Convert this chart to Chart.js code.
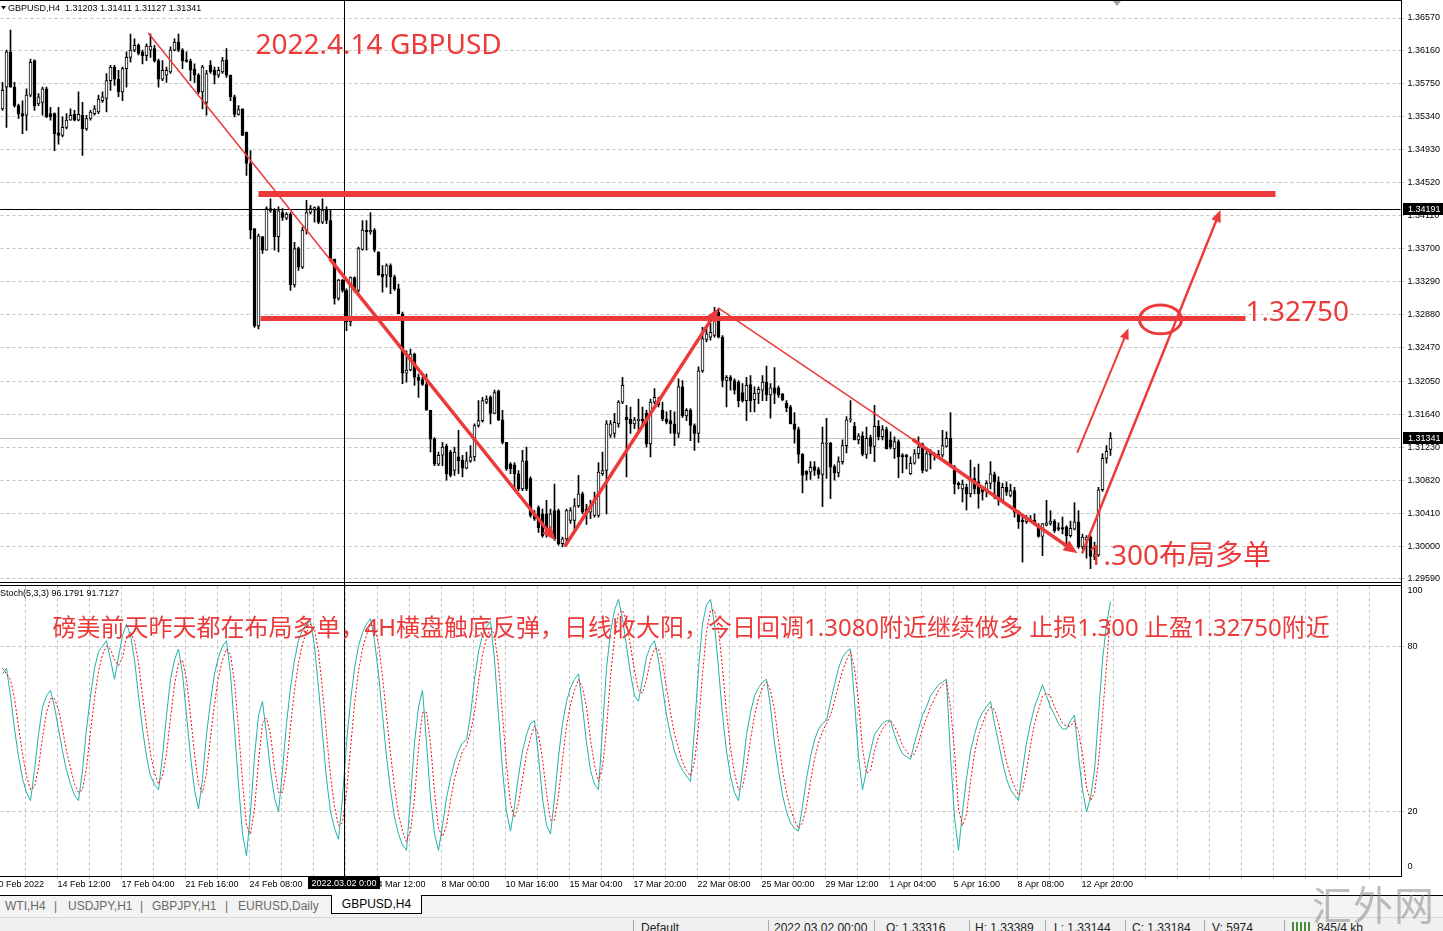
<!DOCTYPE html>
<html lang="zh">
<head>
<meta charset="utf-8">
<title>GBPUSD,H4</title>
<script src="https://cdn.jsdelivr.net/npm/chart.js@4.4.1/dist/chart.umd.min.js"></script>
<style>
  html, body { margin: 0; padding: 0; background: #fff; }
  body { position: relative; width: 1443px; height: 931px; overflow: hidden; font-family: "Liberation Sans", Arial, sans-serif; }
  canvas { position: absolute; left: 0; }
  #price { top: 0; }
  #stoch { top: 583px; }
  #tabs { position: absolute; left: 0; top: 895px; width: 1443px; height: 22px; background: #f3f3f3; border-top: 1px solid #000; box-sizing: border-box; }
  #tabs span { position: absolute; top: 3px; font-size: 12px; color: #6a6a6a; white-space: nowrap; }
  #tabs .active { position: absolute; left: 331px; top: -1px; width: 91px; height: 19px; background: #fff; border: 1px solid #000; border-top: none; box-sizing: border-box; font-size: 12px; color: #000; text-align: center; line-height: 19px; }
  #status { position: absolute; left: 0; top: 917px; width: 1443px; height: 14px; background: #f0f0f0; border-top: 1px solid #d8d8d8; }
  #status span { position: absolute; top: 3px; font-size: 12px; color: #222; white-space: nowrap; }
  #status i { position: absolute; top: 2px; width: 1px; height: 14px; background: #a8a8a8; }
  #status b { position: absolute; top: 4px; width: 2px; height: 10px; background: #4a8a3a; }
  #wm { position: absolute; left: 1312px; top: 874px; font: 40px "Noto Sans CJK SC", sans-serif; color: rgba(130,130,130,0.5); letter-spacing: 1px; }
</style>
</head>
<body>
<canvas id="price" width="1443" height="583"></canvas>
<canvas id="stoch" width="1443" height="312"></canvas>

<div id="tabs">
  <span style="left:5px">WTI,H4</span>
  <span style="left:54px">|</span>
  <span style="left:68px">USDJPY,H1</span>
  <span style="left:140px">|</span>
  <span style="left:152px">GBPJPY,H1</span>
  <span style="left:225px">|</span>
  <span style="left:238px">EURUSD,Daily</span>
  <div class="active">GBPUSD,H4</div>
</div>
<div id="status">
  <i style="left:633px"></i><span style="left:641px">Default</span>
  <i style="left:768px"></i><span style="left:774px">2022.03.02 00:00</span>
  <i style="left:874px"></i><span style="left:886px">O: 1.33316</span>
  <i style="left:969px"></i><span style="left:975px">H: 1.33389</span>
  <i style="left:1045px"></i><span style="left:1054px">L: 1.33144</span>
  <i style="left:1125px"></i><span style="left:1132px">C: 1.33184</span>
  <i style="left:1204px"></i><span style="left:1212px">V: 5974</span>
  <i style="left:1284px"></i><b style="left:1292px"></b><b style="left:1296px"></b><b style="left:1300px"></b><b style="left:1304px"></b><b style="left:1308px"></b>
  <span style="left:1317px">845/4 kb</span>
</div>
<div id="wm">汇外网</div>

<script>
// ---- data ----
const priceTicks = [1.3657, 1.3616, 1.3575, 1.3534, 1.3493, 1.3452, 1.3411, 1.3370, 1.3329,
  1.3288, 1.3247, 1.3205, 1.3164, 1.3123, 1.3082, 1.3041, 1.3000, 1.2959];
const stochTicks = [0, 20, 80, 100];

const timeLabels = ['10 Feb 2022', '14 Feb 12:00', '17 Feb 04:00', '21 Feb 16:00', '24 Feb 08:00',
  '1 Mar 00:00', '4 Mar 12:00', '8 Mar 00:00', '10 Mar 16:00', '15 Mar 04:00', '17 Mar 20:00',
  '22 Mar 08:00', '25 Mar 00:00', '29 Mar 12:00', '1 Apr 04:00', '5 Apr 16:00', '8 Apr 08:00', '12 Apr 20:00'];
const timeLabelBars = [-2.25, 13.75, 29.75, 45.75, 61.75, 77.75, 93.75, 109.75, 125.75,
  141.75, 157.75, 173.75, 189.75, 205.75, 221.75, 237.75, 253.75, 269.75];

const opens = [
  1.3544,1.3571,1.3615,1.3571,1.3548,1.3538,1.3536,1.3561,1.3604,1.3550,
  1.3552,1.3569,1.3538,1.3538,1.3514,1.3511,1.3521,1.3530,1.3537,1.3530,
  1.3536,1.3519,1.3532,1.3538,1.3540,1.3554,1.3557,1.3579,1.3596,1.3581,
  1.3565,1.3594,1.3608,1.3617,1.3623,1.3615,1.3610,1.3617,1.3619,1.3604,
  1.3581,1.3586,1.3590,1.3617,1.3627,1.3617,1.3605,1.3603,1.3593,1.3586,
  1.3565,1.3552,1.3598,1.3592,1.3586,1.3590,1.3605,1.3586,1.3559,1.3537,
  1.3544,1.3515,1.3476,1.3395,1.3274,1.3385,1.3368,1.3417,1.3418,1.3385,
  1.3415,1.3408,1.3413,1.3325,1.3370,1.3347,1.3393,1.3415,1.3418,1.3421,
  1.3403,1.3418,1.3405,1.3357,1.3308,1.3331,1.3318,1.3279,1.3334,1.3318,
  1.3369,1.3393,1.3391,1.3393,1.3366,1.3338,1.3337,1.3349,1.3335,1.3320,
  1.3289,1.3215,1.3219,1.3239,1.3210,1.3207,1.3201,1.3169,1.3133,1.3102,
  1.3113,1.3124,1.3117,1.3094,1.3111,1.3107,1.3097,1.3106,1.3111,1.3150,
  1.3156,1.3179,1.3185,1.3165,1.3193,1.3157,1.3129,1.3102,1.3101,1.3090,
  1.3071,1.3106,1.3084,1.3038,1.3048,1.3040,1.3040,1.3023,1.3044,1.3044,
  1.3003,1.3009,1.3032,1.3032,1.3050,1.3065,1.3046,1.3042,1.3038,1.3038,
  1.3090,1.3094,1.3138,1.3140,1.3152,1.3179,1.3160,1.3158,1.3152,1.3156,
  1.3158,1.3165,1.3127,1.3179,1.3181,1.3169,1.3158,1.3156,1.3152,1.3140,
  1.3198,1.3162,1.3169,1.3150,1.3140,1.3218,1.3257,1.3260,1.3262,1.3291,
  1.3260,1.3206,1.3210,1.3206,1.3204,1.3191,1.3181,1.3201,1.3182,1.3190,
  1.3194,1.3204,1.3188,1.3197,1.3197,1.3189,1.3178,1.3173,1.3152,1.3145,
  1.3114,1.3093,1.3092,1.3099,1.3095,1.3089,1.3127,1.3128,1.3099,1.3091,
  1.3105,1.3125,1.3157,1.3149,1.3132,1.3137,1.3114,1.3135,1.3124,1.3149,
  1.3136,1.3145,1.3132,1.3121,1.3130,1.3113,1.3113,1.3090,1.3103,1.3115,
  1.3127,1.3094,1.3117,1.3114,1.3111,1.3113,1.3124,1.3134,1.3099,1.3078,
  1.3071,1.3073,1.3065,1.3084,1.3080,1.3071,1.3069,1.3078,1.3089,1.3080,
  1.3057,1.3073,1.3063,1.3069,1.3042,1.3032,1.3030,1.3033,1.3032,1.3026,
  1.3012,1.3026,1.3028,1.3031,1.3023,1.3023,1.3024,1.3013,1.3021,1.3030,
  1.2999,1.3008,1.3011,1.2987,1.2989,1.3070,1.3109,1.31203
];
const highs = [
  1.3577,1.3617,1.3642,1.3577,1.3550,1.3554,1.3569,1.3606,1.3605,1.3563,
  1.3571,1.3571,1.3546,1.3539,1.3546,1.3534,1.3538,1.3544,1.3542,1.3565,
  1.3552,1.3536,1.3542,1.3548,1.3561,1.3565,1.3588,1.3598,1.3598,1.3592,
  1.3596,1.3615,1.3637,1.3631,1.3625,1.3617,1.3625,1.3637,1.3623,1.3606,
  1.3604,1.3596,1.3621,1.3631,1.3637,1.3619,1.3615,1.3606,1.3600,1.3588,
  1.3598,1.3592,1.3604,1.3596,1.3596,1.3608,1.3619,1.3586,1.3561,1.3548,
  1.3544,1.3515,1.3492,1.3395,1.3388,1.3385,1.3422,1.3432,1.3420,1.3422,
  1.3420,1.3415,1.3415,1.3378,1.3372,1.3397,1.3430,1.3424,1.3422,1.3423,
  1.3432,1.3422,1.3418,1.3357,1.3332,1.3332,1.3320,1.3335,1.3335,1.3372,
  1.3405,1.3405,1.3415,1.3395,1.3366,1.3349,1.3351,1.3351,1.3337,1.3326,
  1.3291,1.3243,1.3245,1.3240,1.3214,1.3210,1.3214,1.3169,1.3135,1.3117,
  1.3129,1.3127,1.3119,1.3123,1.3144,1.3113,1.3117,1.3125,1.3152,1.3181,
  1.3185,1.3187,1.3187,1.3194,1.3194,1.3169,1.3129,1.3104,1.3104,1.3094,
  1.3119,1.3123,1.3086,1.3044,1.3050,1.3046,1.3057,1.3046,1.3077,1.3046,
  1.3011,1.3046,1.3048,1.3059,1.3088,1.3067,1.3052,1.3057,1.3067,1.3104,
  1.3117,1.3156,1.3156,1.3165,1.3181,1.3210,1.3175,1.3173,1.3160,1.3183,
  1.3173,1.3169,1.3183,1.3196,1.3185,1.3179,1.3167,1.3169,1.3167,1.3208,
  1.3206,1.3171,1.3171,1.3152,1.3223,1.3272,1.3274,1.3277,1.3297,1.3295,
  1.3262,1.3212,1.3212,1.3208,1.3206,1.3202,1.3210,1.3212,1.3198,1.3198,
  1.3212,1.3224,1.3202,1.3222,1.3199,1.3190,1.3181,1.3175,1.3166,1.3148,
  1.3115,1.3094,1.3105,1.3105,1.3098,1.3148,1.3159,1.3129,1.3101,1.3111,
  1.3132,1.3161,1.3181,1.3154,1.3140,1.3142,1.3148,1.3138,1.3175,1.3156,
  1.3150,1.3148,1.3142,1.3136,1.3132,1.3115,1.3114,1.3111,1.3120,1.3136,
  1.3128,1.3118,1.3120,1.3116,1.3119,1.3144,1.3142,1.3166,1.3100,1.3080,
  1.3082,1.3077,1.3107,1.3098,1.3102,1.3073,1.3081,1.3105,1.3092,1.3086,
  1.3078,1.3080,1.3077,1.3073,1.3044,1.3036,1.3038,1.3038,1.3040,1.3028,
  1.3028,1.3057,1.3044,1.3033,1.3029,1.3036,1.3025,1.3031,1.3054,1.3044,
  1.3015,1.3013,1.3013,1.3005,1.3073,1.3115,1.3125,1.31411
];
const lows = [
  1.3542,1.3521,1.3571,1.3546,1.3532,1.3513,1.3517,1.3559,1.3542,1.3548,
  1.3536,1.3533,1.3530,1.3492,1.3500,1.3509,1.3519,1.3530,1.3529,1.3529,
  1.3486,1.3517,1.3530,1.3536,1.3538,1.3552,1.3540,1.3567,1.3573,1.3559,
  1.3554,1.3571,1.3602,1.3615,1.3611,1.3600,1.3604,1.3608,1.3602,1.3571,
  1.3579,1.3577,1.3588,1.3616,1.3615,1.3594,1.3602,1.3579,1.3577,1.3563,
  1.3544,1.3536,1.3588,1.3575,1.3583,1.3588,1.3583,1.3554,1.3534,1.3536,
  1.3511,1.3461,1.3382,1.3272,1.3270,1.3364,1.3368,1.3415,1.3368,1.3366,
  1.3405,1.3406,1.3318,1.3322,1.3343,1.3345,1.3388,1.3413,1.3403,1.3401,
  1.3401,1.3401,1.3355,1.3301,1.3306,1.3316,1.3268,1.3274,1.3316,1.3316,
  1.3368,1.3368,1.3388,1.3366,1.3337,1.3316,1.3322,1.3314,1.3318,1.3289,
  1.3202,1.3204,1.3218,1.3200,1.3185,1.3200,1.3169,1.3117,1.3100,1.3100,
  1.3100,1.3082,1.3086,1.3088,1.3090,1.3086,1.3096,1.3104,1.3106,1.3148,
  1.3154,1.3177,1.3152,1.3165,1.3156,1.3127,1.3094,1.3090,1.3071,1.3069,
  1.3069,1.3069,1.3036,1.3032,1.3017,1.3011,1.3011,1.3015,1.3007,1.3001,
  1.2999,1.3001,1.3028,1.3019,1.3048,1.3040,1.3027,1.3034,1.3036,1.3036,
  1.3088,1.3040,1.3135,1.3135,1.3148,1.3177,1.3086,1.3140,1.3146,1.3144,
  1.3150,1.3123,1.3111,1.3177,1.3173,1.3156,1.3152,1.3140,1.3125,1.3135,
  1.3160,1.3156,1.3131,1.3119,1.3129,1.3216,1.3254,1.3256,1.3260,1.3259,
  1.3198,1.3173,1.3194,1.3189,1.3173,1.3179,1.3156,1.3167,1.3167,1.3177,
  1.3181,1.3181,1.3159,1.3177,1.3185,1.3181,1.3167,1.3152,1.3128,1.3103,
  1.3066,1.3082,1.3083,1.3088,1.3084,1.3049,1.3084,1.3059,1.3082,1.3086,
  1.3102,1.3116,1.3154,1.3132,1.3127,1.3112,1.3109,1.3115,1.3105,1.3132,
  1.3132,1.3121,1.3121,1.3109,1.3085,1.3091,1.3096,1.3089,1.3102,1.3109,
  1.3091,1.3093,1.3096,1.3107,1.3109,1.3111,1.3123,1.3098,1.3065,1.3071,
  1.3055,1.3045,1.3061,1.3065,1.3047,1.3057,1.3061,1.3071,1.3059,1.3051,
  1.3054,1.3063,1.3061,1.3036,1.3022,1.2980,1.3028,1.3030,1.3026,1.3011,
  1.2988,1.3025,1.3026,1.3017,1.3019,1.3015,1.3003,1.3011,1.3020,1.2997,
  1.2996,1.2985,1.2972,1.2983,1.2987,1.3068,1.3103,1.31127
];
const closes = [
  1.3567,1.3615,1.3571,1.3548,1.3538,1.3535,1.3561,1.3602,1.3548,1.3559,
  1.3569,1.3534,1.3534,1.3513,1.3511,1.3521,1.3530,1.3536,1.3530,1.3537,
  1.3519,1.3532,1.3540,1.3544,1.3556,1.3559,1.3579,1.3596,1.3581,1.3565,
  1.3594,1.3608,1.3617,1.3623,1.3613,1.3610,1.3622,1.3622,1.3604,1.3581,
  1.3592,1.3592,1.3617,1.3627,1.3617,1.3604,1.3603,1.3592,1.3586,1.3565,
  1.3596,1.3588,1.3590,1.3586,1.3592,1.3604,1.3586,1.3559,1.3537,1.3543,
  1.3511,1.3476,1.3393,1.3274,1.3386,1.3368,1.3420,1.3420,1.3385,1.3417,
  1.3409,1.3413,1.3325,1.3370,1.3347,1.3393,1.3415,1.3420,1.3421,1.3403,
  1.3418,1.3405,1.3357,1.3308,1.3331,1.3318,1.3279,1.3334,1.3318,1.3370,
  1.3393,1.3391,1.3393,1.3368,1.3337,1.3335,1.3349,1.3335,1.3320,1.3289,
  1.3215,1.3219,1.3239,1.3210,1.3206,1.3201,1.3169,1.3133,1.3102,1.3113,
  1.3123,1.3090,1.3088,1.3117,1.3106,1.3097,1.3106,1.3111,1.3150,1.3156,
  1.3181,1.3183,1.3165,1.3191,1.3157,1.3129,1.3096,1.3096,1.3090,1.3071,
  1.3106,1.3071,1.3038,1.3034,1.3023,1.3013,1.3023,1.3040,1.3009,1.3003,
  1.3009,1.3044,1.3044,1.3050,1.3065,1.3042,1.3042,1.3050,1.3055,1.3092,
  1.3094,1.3152,1.3152,1.3154,1.3179,1.3200,1.3157,1.3152,1.3157,1.3158,
  1.3156,1.3127,1.3179,1.3185,1.3176,1.3158,1.3154,1.3152,1.3140,1.3198,
  1.3162,1.3169,1.3150,1.3140,1.3218,1.3258,1.3264,1.3266,1.3291,1.3260,
  1.3206,1.3210,1.3206,1.3194,1.3181,1.3181,1.3200,1.3181,1.3190,1.3195,
  1.3204,1.3188,1.3197,1.3190,1.3188,1.3182,1.3172,1.3152,1.3145,1.3114,
  1.3088,1.3089,1.3098,1.3094,1.3089,1.3128,1.3128,1.3098,1.3091,1.3105,
  1.3125,1.3157,1.3158,1.3132,1.3137,1.3114,1.3134,1.3124,1.3149,1.3136,
  1.3145,1.3121,1.3123,1.3130,1.3111,1.3111,1.3111,1.3103,1.3115,1.3123,
  1.3094,1.3115,1.3113,1.3112,1.3114,1.3125,1.3134,1.3100,1.3077,1.3076,
  1.3077,1.3065,1.3084,1.3071,1.3065,1.3067,1.3078,1.3090,1.3080,1.3057,
  1.3073,1.3067,1.3069,1.3042,1.3030,1.3030,1.3033,1.3031,1.3028,1.3012,
  1.3028,1.3029,1.3031,1.3019,1.3021,1.3021,1.3013,1.3022,1.3030,1.2999,
  1.3011,1.3011,1.2987,1.2989,1.3070,1.3109,1.3118,1.31341
];

// Stoch(5,3,3): main (%K) and signal (%D)
const stochMain = [
  70,72,62,50,40,32,27,24,35,48, 58,62,64,58,50,42,35,30,26,24,
  35,50,62,72,78,80,82,75,68,76, 84,88,84,75,62,50,40,33,30,28,
  40,55,68,75,79,70,55,40,28,21, 32,48,60,70,76,80,82,70,50,30,
  12,4,20,40,55,60,48,35,25,20, 35,52,65,75,82,86,88,89,80,65,
  48,32,20,14,10,25,45,60,72,80, 85,88,90,82,70,55,40,28,18,12,
  8,6,25,45,58,64,45,25,12,6, 15,25,32,38,42,45,46,55,68,78,
  84,87,89,75,55,35,20,13,22,33, 42,48,52,53,40,25,15,12,25,40,
  52,60,65,68,70,58,45,35,30,28, 50,72,85,93,97,90,80,70,62,60,
  68,76,80,82,75,65,55,48,42,38, 35,33,31,50,72,88,95,97,88,72,
  55,42,33,27,24,35,48,56,62,65, 67,68,58,45,35,26,20,16,14,13,
  22,32,40,46,50,52,53,60,66,72, 76,78,79,60,40,28,35,42,48,50,
  52,53,53,48,44,41,40,39,45,50, 55,58,62,64,66,67,68,40,18,6,
  20,32,42,48,53,56,58,60,52,45, 38,32,28,26,24,35,45,52,58,62,
  66,62,58,55,52,50,50,53,55,40, 28,20,25,35,55,75,88,96.1791
];
const stochSignal = [
  72,70,68,61,51,41,33,28,29,36, 47,56,61,61,57,50,42,36,30,27,
  28,36,49,61,71,77,80,79,75,73, 76,83,85,82,74,62,51,41,34,30,
  33,41,54,66,74,75,68,55,41,30, 27,34,47,59,69,75,79,77,67,50,
  31,15,12,21,38,52,54,48,36,27, 27,36,51,64,74,81,85,88,86,78,
  64,48,33,22,15,16,27,43,59,71, 79,84,88,87,81,69,55,41,29,19,
  13,9,13,25,43,56,56,45,27,14, 11,15,24,32,37,42,44,49,56,67,
  77,83,87,84,73,55,37,23,18,23, 32,41,47,51,48,39,27,17,17,26,
  39,51,59,64,68,65,58,46,37,31, 36,50,69,83,92,93,89,80,71,64,
  63,68,75,79,79,74,65,56,48,43, 38,35,33,38,51,70,85,93,93,86,
  72,56,43,34,28,29,36,46,55,61, 65,67,64,57,46,35,27,21,17,14,
  16,22,31,39,45,49,52,55,60,66, 71,75,78,72,60,43,34,35,42,47,
  50,52,53,51,48,44,42,40,41,45, 50,54,58,61,64,66,67,58,42,21,
  15,19,31,41,48,52,56,58,57,52, 45,38,33,29,26,28,35,44,52,57,
  62,63,62,58,55,52,51,51,53,49, 41,29,24,27,38,55,73,91.7127
];

// ---- hand-drawn objects on the chart, in (bar index, price) ----
const crossBar = 85.5, crossPrice = 1.34191, crossTime = '2022.03.02 0:00';
const levelLines = [
  { from: 64, to: 318.25, price: 1.3438, width: 6 },
  { from: 64.5, to: 310.75, price: 1.3283, width: 5 }
];
const trendLines = [
  { a: [36.5, 1.3638], b: [82, 1.3356], width: 1.5, head: 0 },
  { a: [82, 1.3356], b: [138.25, 1.3007], width: 3.5, head: 14 },
  { a: [140.75, 1.3001], b: [179, 1.3296], width: 3.5, head: 14 },
  { a: [179, 1.3296], b: [227.75, 1.3132], width: 1.5, head: 0 },
  { a: [227.75, 1.3132], b: [268.75, 1.2991], width: 3.5, head: 14 },
  { a: [268.75, 1.3117], b: [281.5, 1.3271], width: 2, head: 11 },
  { a: [270, 1.2992], b: [304.5, 1.3418], width: 2.5, head: 12 }
];
const ring = { at: [289.5, 1.3282], rx: 5.25, ry: 0.0018, width: 3 };
const priceNotes = [
  { text: '2022.4.14 GBPUSD', at: [63.25, 1.3622], size: 28 },
  { text: '1.32750', at: [310.75, 1.3290], size: 28 },
  { text: '1.300布局多单', at: [271.25, 1.2986], size: 28 }
];
const stochNote = { text: '磅美前天昨天都在布局多单，4H横盘触底反弹，日线收大阳，今日回调1.3080附近继续做多 止损1.300 止盈1.32750附近', at: [12.5, 86], size: 24 };

// ---- layout ----
const SLOTS = 350;
const slotLabels = Array.from({ length: SLOTS }, (_, i) => String(i));
const gridBars = [];
for (let v = -2.25; v < SLOTS - 1; v += 8) gridBars.push(v);
const labelAt = new Map(timeLabelBars.map((b, k) => [b, timeLabels[k]]));

const FONT = '"Liberation Sans", Arial, sans-serif';
const NOTE_FONT = '"Noto Sans", "Noto Sans CJK SC", sans-serif';
const RED = 'rgb(236,58,58)';
const GRID = '#c4c4c4';
const last = closes.length - 1;

function arrow(ctx, x1, y1, x2, y2, w, head) {
  const ang = Math.atan2(y2 - y1, x2 - x1);
  let ex = x2, ey = y2;
  if (head) { ex = x2 - Math.cos(ang) * head * 0.7; ey = y2 - Math.sin(ang) * head * 0.7; }
  ctx.lineWidth = w;
  ctx.beginPath(); ctx.moveTo(x1, y1); ctx.lineTo(ex, ey); ctx.stroke();
  if (head) {
    const bx = x2 - Math.cos(ang) * head, by = y2 - Math.sin(ang) * head;
    const hw = head * 0.42;
    ctx.beginPath();
    ctx.moveTo(x2, y2);
    ctx.lineTo(bx + Math.sin(ang) * hw, by - Math.cos(ang) * hw);
    ctx.lineTo(bx - Math.sin(ang) * hw, by + Math.cos(ang) * hw);
    ctx.closePath(); ctx.fill();
  }
}

function axisBox(ctx, x, y, w, text) {
  ctx.fillStyle = '#000';
  ctx.fillRect(x, y - 6, w, 12);
  ctx.fillStyle = '#fff';
  ctx.font = '9px ' + FONT;
  ctx.textBaseline = 'middle';
  ctx.fillText(text, x + 5, y + 0.5);
}

const pricePlugin = {
  id: 'pricePanel',
  beforeDatasetsDraw(chart) {
    const { ctx, chartArea: a, scales: { y } } = chart;
    ctx.save();
    ctx.fillStyle = '#c0c0c0';
    ctx.fillRect(0, Math.round(y.getPixelForValue(closes[last])), a.right, 1);
    ctx.restore();
  },
  afterDatasetsDraw(chart) {
    const { ctx, chartArea: a, scales: { x, y } } = chart;
    ctx.save();
    // crosshair
    ctx.fillStyle = '#000';
    ctx.fillRect(Math.floor(x.getPixelForValue(crossBar)), 0, 1, a.bottom);
    ctx.fillRect(0, Math.round(y.getPixelForValue(crossPrice)), a.right, 1);

    ctx.strokeStyle = RED; ctx.fillStyle = RED;
    ctx.lineCap = 'butt';
    levelLines.forEach(l => {
      ctx.lineWidth = l.width;
      const py = y.getPixelForValue(l.price);
      ctx.beginPath(); ctx.moveTo(x.getPixelForValue(l.from), py); ctx.lineTo(x.getPixelForValue(l.to), py); ctx.stroke();
    });
    ctx.lineCap = 'round';
    trendLines.forEach(t => {
      arrow(ctx, x.getPixelForValue(t.a[0]), y.getPixelForValue(t.a[1]),
        x.getPixelForValue(t.b[0]), y.getPixelForValue(t.b[1]), t.width, t.head);
    });
    const cx = x.getPixelForValue(ring.at[0]), cy = y.getPixelForValue(ring.at[1]);
    const rx = x.getPixelForValue(ring.at[0] + ring.rx) - cx;
    const ry = y.getPixelForValue(ring.at[1] - ring.ry) - cy;
    ctx.lineWidth = ring.width;
    ctx.beginPath(); ctx.ellipse(cx, cy, rx, ry, 0, 0, Math.PI * 2); ctx.stroke();
    ctx.restore();
  },
  afterDraw(chart) {
    const { ctx, chartArea: a, scales: { x, y } } = chart;
    ctx.save();
    ctx.fillStyle = RED;
    ctx.textBaseline = 'middle';
    priceNotes.forEach(n => {
      ctx.font = n.size + 'px ' + NOTE_FONT;
      ctx.fillText(n.text, x.getPixelForValue(n.at[0]), y.getPixelForValue(n.at[1]));
    });
    ctx.fillStyle = '#000';
    ctx.fillRect(0, 0, 1402, 1);
    ctx.fillRect(1401, 0, 1, chart.height);
    ctx.fillRect(0, a.bottom - 1, 1402, 1);
    // shift marker
    ctx.fillStyle = '#a0a0a0';
    ctx.beginPath(); ctx.moveTo(1113, 1); ctx.lineTo(1121, 1); ctx.lineTo(1117, 6); ctx.closePath(); ctx.fill();
    // header
    ctx.fillStyle = '#000';
    ctx.beginPath(); ctx.moveTo(1, 6); ctx.lineTo(6, 6); ctx.lineTo(3.5, 9.5); ctx.closePath(); ctx.fill();
    ctx.font = '9px ' + FONT;
    const ohlc = [opens, highs, lows, closes].map(s => s[last].toFixed(5)).join(' ');
    ctx.fillText('GBPUSD,H4  ' + ohlc, 8, 8.5);
    // price boxes on the axis
    axisBox(ctx, 1403, Math.round(y.getPixelForValue(crossPrice)), 40, crossPrice.toFixed(5));
    axisBox(ctx, 1403, Math.round(y.getPixelForValue(closes[last])), 40, closes[last].toFixed(5));
    ctx.restore();
  }
};

const stochPlugin = {
  id: 'stochPanel',
  afterDatasetsDraw(chart) {
    const { ctx, chartArea: a, scales: { x, y } } = chart;
    ctx.save();
    ctx.fillStyle = '#000';
    ctx.fillRect(Math.floor(x.getPixelForValue(crossBar)), 0, 1, a.bottom);
    ctx.fillStyle = RED;
    ctx.font = stochNote.size + 'px ' + NOTE_FONT;
    ctx.textBaseline = 'middle';
    ctx.fillText(stochNote.text, x.getPixelForValue(stochNote.at[0]), y.getPixelForValue(stochNote.at[1]));
    ctx.restore();
  },
  afterDraw(chart) {
    const { ctx, chartArea: a, scales: { x } } = chart;
    ctx.save();
    ctx.fillStyle = '#000';
    ctx.fillRect(0, a.top - 1, 1402, 1);
    ctx.fillRect(1401, 0, 1, a.bottom + 1);
    ctx.fillRect(0, a.bottom, 1402, 1);
    ctx.font = '9px ' + FONT;
    ctx.textBaseline = 'middle';
    ctx.fillText('Stoch(5,3,3) ' + stochMain[last].toFixed(4) + ' ' + stochSignal[last].toFixed(4), 0, 10.5);
    // time box under the crosshair
    const cx = Math.floor(x.getPixelForValue(crossBar));
    ctx.fillRect(cx - 36, a.bottom + 1, 72, 12);
    ctx.fillStyle = '#fff';
    ctx.textAlign = 'center';
    ctx.fillText(crossTime, cx, a.bottom + 7.5);
    ctx.restore();
  }
};

new Chart(document.getElementById('price'), {
  type: 'bar',
  data: {
    labels: slotLabels,
    datasets: [
      {
        label: 'range',
        data: lows.map((l, i) => [l, highs[i]]),
        backgroundColor: '#000',
        borderWidth: 0,
        barThickness: 1,
        grouped: false,
        order: 2
      },
      {
        label: 'body',
        data: opens.map((o, i) => [o, closes[i]]),
        backgroundColor: opens.map((o, i) => closes[i] >= o ? '#fff' : '#000'),
        borderColor: '#000',
        borderWidth: 1,
        borderSkipped: false,
        barThickness: 3,
        minBarLength: 1,
        grouped: false,
        order: 1
      }
    ]
  },
  options: {
    responsive: false,
    animation: false,
    events: [],
    layout: { padding: { left: 0.5, top: 0, right: 0, bottom: 0 } },
    plugins: { legend: { display: false }, tooltip: { enabled: false } },
    scales: {
      x: {
        type: 'category',
        offset: true,
        ticks: { display: false },
        grid: { color: GRID, drawTicks: false, offset: false },
        border: { display: false, dash: [3, 3] },
        afterBuildTicks: s => { s.ticks = gridBars.map(v => ({ value: v })); },
        afterFit: s => { s.height = 0; s.paddingLeft = 0; s.paddingRight = 0; }
      },
      y: {
        position: 'right',
        min: 1.295402,
        max: 1.367940,
        ticks: { color: '#000', padding: 3, font: { family: FONT, size: 9 }, callback: v => v.toFixed(5) },
        grid: { color: GRID, tickLength: 4, offset: false },
        border: { display: false, dash: [3, 3] },
        afterBuildTicks: s => { s.ticks = priceTicks.map(v => ({ value: v })); },
        afterFit: s => { s.width = 42.5; s.paddingTop = 0; s.paddingBottom = 0; }
      }
    }
  },
  plugins: [pricePlugin]
});

new Chart(document.getElementById('stoch'), {
  type: 'line',
  data: {
    labels: slotLabels,
    datasets: [
      { label: 'Signal', data: stochSignal, borderColor: '#ff0000', borderWidth: 1, borderDash: [2, 2], pointRadius: 0, tension: 0 },
      { label: 'Main', data: stochMain, borderColor: '#20b2aa', borderWidth: 1, pointRadius: 0, tension: 0 }
    ]
  },
  options: {
    responsive: false,
    animation: false,
    events: [],
    layout: { padding: { left: 0.5, top: 3, right: 0, bottom: 0 } },
    plugins: { legend: { display: false }, tooltip: { enabled: false } },
    scales: {
      x: {
        type: 'category',
        offset: true,
        ticks: {
          autoSkip: false, maxRotation: 0, minRotation: 0, align: 'start', padding: 0,
          color: '#000', font: { family: FONT, size: 9 },
          callback: v => labelAt.get(v) || ''
        },
        grid: { color: GRID, tickLength: 3, offset: false },
        border: { display: false, dash: [3, 3] },
        afterBuildTicks: s => { s.ticks = gridBars.map(v => ({ value: v })); },
        afterFit: s => { s.height = 19; s.paddingLeft = 0; s.paddingRight = 0; }
      },
      y: {
        position: 'right',
        min: -3.26,
        max: 101.81,
        ticks: { color: '#000', padding: 3, font: { family: FONT, size: 9 } },
        grid: {
          color: c => (c.tick && (c.tick.value === 20 || c.tick.value === 80)) ? GRID : 'rgba(0,0,0,0)',
          tickLength: 4, offset: false
        },
        border: { display: false, dash: [3, 3] },
        afterBuildTicks: s => { s.ticks = stochTicks.map(v => ({ value: v })); },
        afterFit: s => { s.width = 42.5; s.paddingTop = 0; s.paddingBottom = 0; }
      }
    }
  },
  plugins: [stochPlugin]
});
</script>
</body>
</html>
